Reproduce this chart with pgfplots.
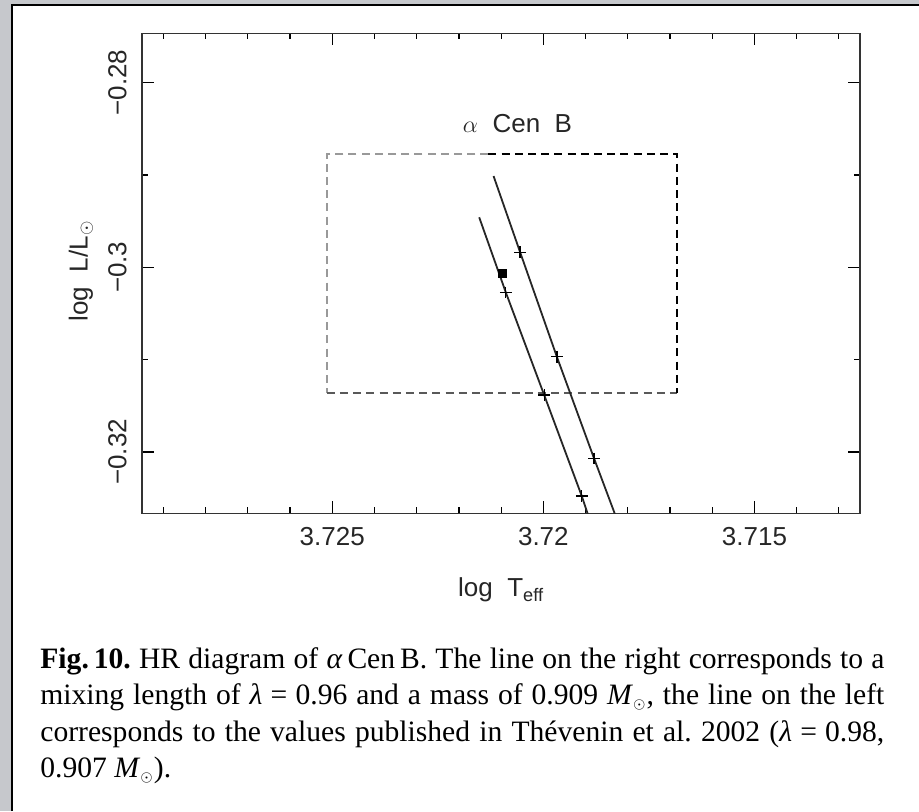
\documentclass[border=0pt]{standalone}
\usepackage{pgfplots}
\pgfplotsset{compat=1.18}
\usepackage{fontspec}
\setmainfont{Liberation Serif}
\newfontfamily\plotfont{Liberation Sans}
\definecolor{bggray}{RGB}{198,200,204}
\begin{document}
\frenchspacing
\begin{tikzpicture}[x=1pt,y=1pt]
\fill[bggray] (0,0) rectangle (459.5,-405.5);
\fill[white] (5.85,-2.5) rectangle (459.5,-405.5);
\draw[black, line width=1pt] (5.85,-405.5) -- (5.85,-2.5) -- (459.5,-2.5);
\begin{axis}[
  at={(71.15pt,-256.65pt)}, anchor=south west,
  scale only axis, width=358.85pt, height=240pt,
  xmin=3.7125, xmax=3.7295, ymin=-0.32665, ymax=-0.27465,
  x dir=reverse,
  xtick={3.715,3.72,3.725}, xticklabels={3.715,3.72,3.725},
  ytick={-0.32,-0.3,-0.28}, yticklabels={−0.32,−0.3,−0.28},
  minor xtick={3.713,3.714,3.716,3.717,3.718,3.719,3.721,3.722,3.723,3.724,3.726,3.727,3.728,3.729},
  minor ytick={-0.31,-0.29},
  tick align=inside,
  major tick length=6pt, minor tick length=3pt,
  tick style={black, line width=0.6pt},
  axis line style={black!80, line width=0.8pt},
  every tick label/.append style={font=\plotfont\fontsize{13}{15}\selectfont, text=black!85},
  xticklabel style={anchor=north, inner ysep=6.7pt},
  yticklabel style={rotate=90, anchor=south, inner ysep=7.6pt},
  xlabel={log\ \ T\textsubscript{eff}},
  ylabel={log\ \ L/L\textsubscript{$\odot$}},
  label style={font=\plotfont\fontsize{13}{15}\selectfont, text=black!85},
  xlabel style={at={(axis description cs:0.5,-0.16)}, anchor=center},
  ylabel style={at={(axis description cs:-0.0854,0.505)}, anchor=center, rotate=0},
  clip=true,
]
% error box (gray part)
\addplot[black!40, line width=1pt, dash pattern=on 4pt off 2.6pt] coordinates {
  (3.7213,-0.28772) (3.72513,-0.28772) (3.72513,-0.31362)};
\addplot[black!65, line width=1pt, dash pattern=on 4pt off 2.6pt] coordinates {
  (3.72513,-0.31362) (3.71684,-0.31362)};
% error box (black part)
\addplot[black, line width=0.9pt, dash pattern=on 4pt off 2.6pt] coordinates {
  (3.7213,-0.28772) (3.71684,-0.28772) (3.71684,-0.31362)};
% right track (lambda = 0.96, 0.909 Msun)
\addplot[black!85, line width=0.9pt] coordinates {
  (3.72118,-0.29011) (3.72055,-0.29837) (3.71968,-0.30969) (3.71880,-0.32069) (3.71825,-0.32740)};
% left track (Thevenin et al. 2002)
\addplot[black!85, line width=0.9pt] coordinates {
  (3.72152,-0.29458) (3.72089,-0.30271) (3.71998,-0.31384) (3.71909,-0.32478) (3.71890,-0.32740)};
% plus marks
\addplot[only marks, mark=+, mark size=2.9pt, black, line width=0.7pt] coordinates {
  (3.72055,-0.29837) (3.71968,-0.30969) (3.71880,-0.32069)};
\addplot[only marks, mark=+, mark size=2.9pt, black, line width=0.7pt] coordinates {
  (3.72089,-0.30271) (3.71998,-0.31384) (3.71909,-0.32478)};
% observed position
\addplot[only marks, mark=square*, mark size=2pt, black] coordinates {
  (3.72097,-0.30069)};
\node[font=\plotfont\fontsize{13}{15}\selectfont, text=black!85] at (axis description cs:0.5228,0.813) {$\alpha$\ \ Cen\ \ B};
\end{axis}
\node[anchor=north west, inner sep=0pt, text width=422pt, align=justify,
      font=\fontsize{14.8}{18.2}\selectfont] at (20,-323.5) {%
\textbf{Fig.\,10.} HR diagram of \textit{α}\,Cen\,B. The line on the right corresponds to a\linebreak
mixing length of \textit{λ}\;=\;0.96 and a mass of 0.909 \textit{M}$_{\scriptscriptstyle\odot}$, the line on the left\linebreak
corresponds to the values published in Thévenin et al. 2002 (\textit{λ}\;=\;0.98,\linebreak
0.907 \textit{M}$_{\scriptscriptstyle\odot}$).};
\pgfresetboundingbox
\useasboundingbox (0,0) rectangle (459.5,-405.5);
\end{tikzpicture}
\end{document}
